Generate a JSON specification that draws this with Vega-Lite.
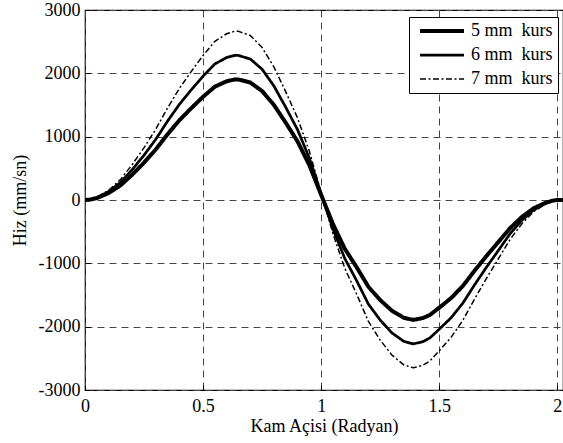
{
  "$schema": "https://vega.github.io/schema/vega-lite/v6.json",
  "width": 478,
  "height": 380,
  "autosize": {"type": "none"},
  "padding": {"left": 85, "top": 10, "right": 0, "bottom": 53},
  "background": "white",
  "config": {
    "font": "'Liberation Serif', 'Times New Roman', serif",
    "view": {"stroke": "black", "strokeWidth": 1.2},
    "axis": {
      "labelFont": "'Liberation Serif', 'Times New Roman', serif",
      "titleFont": "'Liberation Serif', 'Times New Roman', serif",
      "labelFontSize": 18,
      "titleFontSize": 18,
      "titleFontWeight": "normal",
      "labelColor": "black",
      "titleColor": "black",
      "domain": false,
      "tickColor": "black",
      "tickSize": -5,
      "gridColor": "#444",
      "gridDash": [7, 5],
      "gridWidth": 1,
      "gridOpacity": 1
    },
    "legend": {
      "labelFont": "'Liberation Serif', 'Times New Roman', serif",
      "labelFontSize": 18,
      "labelColor": "black"
    }
  },
  "data": {
    "values": [
      {"x": 0, "v": 0, "s": "5 mm\u00a0 kurs"},
      {"x": 0.02, "v": 5, "s": "5 mm\u00a0 kurs"},
      {"x": 0.05, "v": 30, "s": "5 mm\u00a0 kurs"},
      {"x": 0.1, "v": 110, "s": "5 mm\u00a0 kurs"},
      {"x": 0.15, "v": 230, "s": "5 mm\u00a0 kurs"},
      {"x": 0.2, "v": 400, "s": "5 mm\u00a0 kurs"},
      {"x": 0.25, "v": 590, "s": "5 mm\u00a0 kurs"},
      {"x": 0.3, "v": 800, "s": "5 mm\u00a0 kurs"},
      {"x": 0.35, "v": 1040, "s": "5 mm\u00a0 kurs"},
      {"x": 0.4, "v": 1260, "s": "5 mm\u00a0 kurs"},
      {"x": 0.45, "v": 1450, "s": "5 mm\u00a0 kurs"},
      {"x": 0.5, "v": 1630, "s": "5 mm\u00a0 kurs"},
      {"x": 0.55, "v": 1790, "s": "5 mm\u00a0 kurs"},
      {"x": 0.6, "v": 1875, "s": "5 mm\u00a0 kurs"},
      {"x": 0.636, "v": 1905, "s": "5 mm\u00a0 kurs"},
      {"x": 0.65, "v": 1902, "s": "5 mm\u00a0 kurs"},
      {"x": 0.7, "v": 1855, "s": "5 mm\u00a0 kurs"},
      {"x": 0.75, "v": 1720, "s": "5 mm\u00a0 kurs"},
      {"x": 0.8, "v": 1500, "s": "5 mm\u00a0 kurs"},
      {"x": 0.85, "v": 1220, "s": "5 mm\u00a0 kurs"},
      {"x": 0.9, "v": 925, "s": "5 mm\u00a0 kurs"},
      {"x": 0.95, "v": 550, "s": "5 mm\u00a0 kurs"},
      {"x": 1.0, "v": 80, "s": "5 mm\u00a0 kurs"},
      {"x": 1.05, "v": -380, "s": "5 mm\u00a0 kurs"},
      {"x": 1.1, "v": -770, "s": "5 mm\u00a0 kurs"},
      {"x": 1.15, "v": -1060, "s": "5 mm\u00a0 kurs"},
      {"x": 1.2, "v": -1370, "s": "5 mm\u00a0 kurs"},
      {"x": 1.25, "v": -1580, "s": "5 mm\u00a0 kurs"},
      {"x": 1.3, "v": -1750, "s": "5 mm\u00a0 kurs"},
      {"x": 1.35, "v": -1860, "s": "5 mm\u00a0 kurs"},
      {"x": 1.39, "v": -1893, "s": "5 mm\u00a0 kurs"},
      {"x": 1.43, "v": -1865, "s": "5 mm\u00a0 kurs"},
      {"x": 1.46, "v": -1816, "s": "5 mm\u00a0 kurs"},
      {"x": 1.5, "v": -1700, "s": "5 mm\u00a0 kurs"},
      {"x": 1.55, "v": -1550, "s": "5 mm\u00a0 kurs"},
      {"x": 1.6, "v": -1357, "s": "5 mm\u00a0 kurs"},
      {"x": 1.65, "v": -1114, "s": "5 mm\u00a0 kurs"},
      {"x": 1.7, "v": -884, "s": "5 mm\u00a0 kurs"},
      {"x": 1.75, "v": -665, "s": "5 mm\u00a0 kurs"},
      {"x": 1.8, "v": -444, "s": "5 mm\u00a0 kurs"},
      {"x": 1.85, "v": -267, "s": "5 mm\u00a0 kurs"},
      {"x": 1.9, "v": -130, "s": "5 mm\u00a0 kurs"},
      {"x": 1.95, "v": -45, "s": "5 mm\u00a0 kurs"},
      {"x": 1.98, "v": -10, "s": "5 mm\u00a0 kurs"},
      {"x": 2.0, "v": 0, "s": "5 mm\u00a0 kurs"},
      {"x": 2.024, "v": 0, "s": "5 mm\u00a0 kurs"},

      {"x": 0, "v": 0, "s": "6 mm\u00a0 kurs"},
      {"x": 0.02, "v": 6, "s": "6 mm\u00a0 kurs"},
      {"x": 0.05, "v": 36, "s": "6 mm\u00a0 kurs"},
      {"x": 0.1, "v": 132, "s": "6 mm\u00a0 kurs"},
      {"x": 0.15, "v": 276, "s": "6 mm\u00a0 kurs"},
      {"x": 0.2, "v": 480, "s": "6 mm\u00a0 kurs"},
      {"x": 0.25, "v": 708, "s": "6 mm\u00a0 kurs"},
      {"x": 0.3, "v": 960, "s": "6 mm\u00a0 kurs"},
      {"x": 0.35, "v": 1248, "s": "6 mm\u00a0 kurs"},
      {"x": 0.4, "v": 1512, "s": "6 mm\u00a0 kurs"},
      {"x": 0.45, "v": 1740, "s": "6 mm\u00a0 kurs"},
      {"x": 0.5, "v": 1956, "s": "6 mm\u00a0 kurs"},
      {"x": 0.55, "v": 2148, "s": "6 mm\u00a0 kurs"},
      {"x": 0.6, "v": 2250, "s": "6 mm\u00a0 kurs"},
      {"x": 0.636, "v": 2286, "s": "6 mm\u00a0 kurs"},
      {"x": 0.65, "v": 2282, "s": "6 mm\u00a0 kurs"},
      {"x": 0.7, "v": 2226, "s": "6 mm\u00a0 kurs"},
      {"x": 0.75, "v": 2064, "s": "6 mm\u00a0 kurs"},
      {"x": 0.8, "v": 1800, "s": "6 mm\u00a0 kurs"},
      {"x": 0.85, "v": 1464, "s": "6 mm\u00a0 kurs"},
      {"x": 0.9, "v": 1110, "s": "6 mm\u00a0 kurs"},
      {"x": 0.95, "v": 660, "s": "6 mm\u00a0 kurs"},
      {"x": 1.0, "v": 96, "s": "6 mm\u00a0 kurs"},
      {"x": 1.05, "v": -456, "s": "6 mm\u00a0 kurs"},
      {"x": 1.1, "v": -924, "s": "6 mm\u00a0 kurs"},
      {"x": 1.15, "v": -1272, "s": "6 mm\u00a0 kurs"},
      {"x": 1.2, "v": -1644, "s": "6 mm\u00a0 kurs"},
      {"x": 1.25, "v": -1896, "s": "6 mm\u00a0 kurs"},
      {"x": 1.3, "v": -2100, "s": "6 mm\u00a0 kurs"},
      {"x": 1.35, "v": -2232, "s": "6 mm\u00a0 kurs"},
      {"x": 1.39, "v": -2272, "s": "6 mm\u00a0 kurs"},
      {"x": 1.43, "v": -2238, "s": "6 mm\u00a0 kurs"},
      {"x": 1.46, "v": -2179, "s": "6 mm\u00a0 kurs"},
      {"x": 1.5, "v": -2040, "s": "6 mm\u00a0 kurs"},
      {"x": 1.55, "v": -1860, "s": "6 mm\u00a0 kurs"},
      {"x": 1.6, "v": -1628, "s": "6 mm\u00a0 kurs"},
      {"x": 1.65, "v": -1337, "s": "6 mm\u00a0 kurs"},
      {"x": 1.7, "v": -1061, "s": "6 mm\u00a0 kurs"},
      {"x": 1.75, "v": -798, "s": "6 mm\u00a0 kurs"},
      {"x": 1.8, "v": -533, "s": "6 mm\u00a0 kurs"},
      {"x": 1.85, "v": -320, "s": "6 mm\u00a0 kurs"},
      {"x": 1.9, "v": -156, "s": "6 mm\u00a0 kurs"},
      {"x": 1.95, "v": -54, "s": "6 mm\u00a0 kurs"},
      {"x": 1.98, "v": -12, "s": "6 mm\u00a0 kurs"},
      {"x": 2.0, "v": 0, "s": "6 mm\u00a0 kurs"},
      {"x": 2.024, "v": 0, "s": "6 mm\u00a0 kurs"},

      {"x": 0, "v": 0, "s": "7 mm\u00a0 kurs"},
      {"x": 0.02, "v": 7, "s": "7 mm\u00a0 kurs"},
      {"x": 0.05, "v": 42, "s": "7 mm\u00a0 kurs"},
      {"x": 0.1, "v": 154, "s": "7 mm\u00a0 kurs"},
      {"x": 0.15, "v": 322, "s": "7 mm\u00a0 kurs"},
      {"x": 0.2, "v": 560, "s": "7 mm\u00a0 kurs"},
      {"x": 0.25, "v": 826, "s": "7 mm\u00a0 kurs"},
      {"x": 0.3, "v": 1120, "s": "7 mm\u00a0 kurs"},
      {"x": 0.35, "v": 1456, "s": "7 mm\u00a0 kurs"},
      {"x": 0.4, "v": 1764, "s": "7 mm\u00a0 kurs"},
      {"x": 0.45, "v": 2030, "s": "7 mm\u00a0 kurs"},
      {"x": 0.5, "v": 2282, "s": "7 mm\u00a0 kurs"},
      {"x": 0.55, "v": 2506, "s": "7 mm\u00a0 kurs"},
      {"x": 0.6, "v": 2625, "s": "7 mm\u00a0 kurs"},
      {"x": 0.636, "v": 2667, "s": "7 mm\u00a0 kurs"},
      {"x": 0.65, "v": 2663, "s": "7 mm\u00a0 kurs"},
      {"x": 0.7, "v": 2597, "s": "7 mm\u00a0 kurs"},
      {"x": 0.75, "v": 2408, "s": "7 mm\u00a0 kurs"},
      {"x": 0.8, "v": 2100, "s": "7 mm\u00a0 kurs"},
      {"x": 0.85, "v": 1708, "s": "7 mm\u00a0 kurs"},
      {"x": 0.9, "v": 1295, "s": "7 mm\u00a0 kurs"},
      {"x": 0.95, "v": 770, "s": "7 mm\u00a0 kurs"},
      {"x": 1.0, "v": 112, "s": "7 mm\u00a0 kurs"},
      {"x": 1.05, "v": -532, "s": "7 mm\u00a0 kurs"},
      {"x": 1.1, "v": -1078, "s": "7 mm\u00a0 kurs"},
      {"x": 1.15, "v": -1484, "s": "7 mm\u00a0 kurs"},
      {"x": 1.2, "v": -1918, "s": "7 mm\u00a0 kurs"},
      {"x": 1.25, "v": -2212, "s": "7 mm\u00a0 kurs"},
      {"x": 1.3, "v": -2450, "s": "7 mm\u00a0 kurs"},
      {"x": 1.35, "v": -2604, "s": "7 mm\u00a0 kurs"},
      {"x": 1.39, "v": -2650, "s": "7 mm\u00a0 kurs"},
      {"x": 1.43, "v": -2611, "s": "7 mm\u00a0 kurs"},
      {"x": 1.46, "v": -2542, "s": "7 mm\u00a0 kurs"},
      {"x": 1.5, "v": -2380, "s": "7 mm\u00a0 kurs"},
      {"x": 1.55, "v": -2170, "s": "7 mm\u00a0 kurs"},
      {"x": 1.6, "v": -1900, "s": "7 mm\u00a0 kurs"},
      {"x": 1.65, "v": -1560, "s": "7 mm\u00a0 kurs"},
      {"x": 1.7, "v": -1238, "s": "7 mm\u00a0 kurs"},
      {"x": 1.75, "v": -931, "s": "7 mm\u00a0 kurs"},
      {"x": 1.8, "v": -622, "s": "7 mm\u00a0 kurs"},
      {"x": 1.85, "v": -374, "s": "7 mm\u00a0 kurs"},
      {"x": 1.9, "v": -182, "s": "7 mm\u00a0 kurs"},
      {"x": 1.95, "v": -63, "s": "7 mm\u00a0 kurs"},
      {"x": 1.98, "v": -14, "s": "7 mm\u00a0 kurs"},
      {"x": 2.0, "v": 0, "s": "7 mm\u00a0 kurs"},
      {"x": 2.024, "v": 0, "s": "7 mm\u00a0 kurs"}
    ]
  },
  "mark": {"type": "line", "color": "black", "clip": true, "strokeJoin": "round", "strokeCap": "butt"},
  "encoding": {
    "x": {
      "field": "x",
      "type": "quantitative",
      "scale": {"domain": [0, 2.024], "nice": false, "zero": false},
      "axis": {
        "values": [0, 0.5, 1, 1.5, 2],
        "labelExpr": "'' + datum.value",
        "title": "Kam Açisi (Radyan)",
        "labelPadding": 12,
        "titlePadding": 2,
        "labelFlush": false
      }
    },
    "y": {
      "field": "v",
      "type": "quantitative",
      "scale": {"domain": [-3000, 3000], "nice": false},
      "axis": {
        "values": [-3000, -2000, -1000, 0, 1000, 2000, 3000],
        "labelExpr": "datum.value < 0 ? '-' + abs(datum.value) : '' + datum.value",
        "title": "Hiz (mm/sn)",
        "labelPadding": 10,
        "titlePadding": 9,
        "labelFlush": false
      }
    },
    "order": {"field": "x", "type": "quantitative"},
    "strokeWidth": {
      "field": "s",
      "type": "nominal",
      "scale": {"domain": ["5 mm\u00a0 kurs", "6 mm\u00a0 kurs", "7 mm\u00a0 kurs"], "range": [4, 1.5, 2.2]},
      "legend": null
    },
    "strokeDash": {
      "field": "s",
      "type": "nominal",
      "scale": {"domain": ["5 mm\u00a0 kurs", "6 mm\u00a0 kurs", "7 mm\u00a0 kurs"], "range": [[1, 0], [1, 0], [6, 2.5, 2, 2.5]]},
      "legend": {
        "title": null,
        "orient": "none",
        "legendX": 324,
        "legendY": 7,
        "symbolType": "stroke",
        "symbolSize": 1936,
        "symbolOffset": 4,
        "symbolStrokeColor": "black",
        "symbolStrokeWidth": 2,
        "strokeColor": "black",
        "fillColor": "white",
        "padding": 5,
        "rowPadding": 6,
        "clipHeight": 18,
        "labelOffset": 5,
        "cornerRadius": 0
      }
    }
  }
}
